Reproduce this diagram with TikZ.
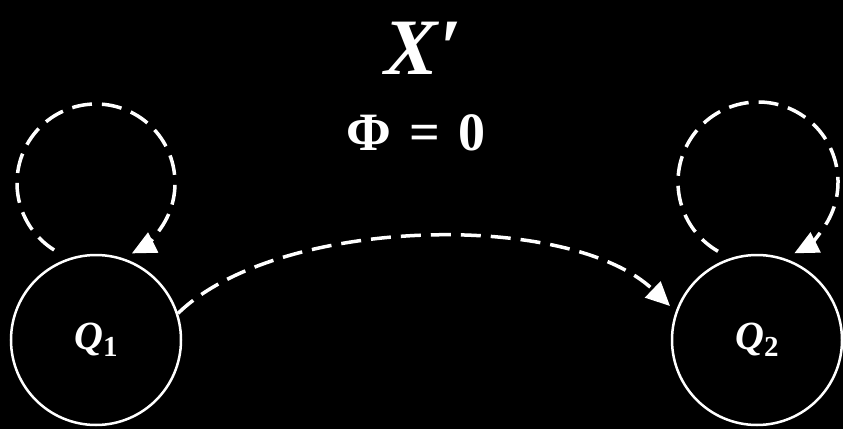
\documentclass[tikz,border=0pt]{standalone}
\usepackage{fontspec}
\setmainfont{Liberation Serif}
\usetikzlibrary{arrows.meta}
\begin{document}
\begin{tikzpicture}[x=1pt,y=1pt,
  state/.style={circle,draw=white,line width=2.5pt,minimum size=170pt,inner sep=0pt,text=white},
  dashline/.style={draw=white,line width=3.5pt,dash pattern=on 20pt off 10pt},
  tip/.style={-{Triangle[length=24pt,width=22pt]}},
  lbl/.style={text=white,inner sep=0pt}]
\fill[black] (0,0) rectangle (843,429);
\useasboundingbox (0,0) rectangle (843,429);
\node[state] (q1) at (96,89) {\fontsize{40}{44}\selectfont\bfseries\itshape Q\raisebox{-7pt}{\upshape\fontsize{29}{32}\selectfont 1}};
\node[state] (q2) at (757,89) {\fontsize{40}{44}\selectfont\bfseries\itshape Q\raisebox{-7pt}{\upshape\fontsize{29}{32}\selectfont 2}};
\node[lbl] (title) at (424,381) {\fontsize{80}{90}\selectfont\bfseries\itshape X\kern3pt\upshape ′};
\node[lbl] (phi) at (416,296) {\fontsize{54}{60}\selectfont\bfseries Φ\hspace{18pt}=\hspace{18pt}0};
\coordinate (c1) at (96,246);
\coordinate (c2) at (758,247);
\coordinate (e2) at (670,123);
\draw[dashline,tip] ([shift={(238:79)}]c1) arc[start angle=238,end angle=-63,radius=79];
\draw[dashline,tip] ([shift={(240:80)}]c2) arc[start angle=240,end angle=-63,radius=80];
\draw[dashline,tip] (q1.18) .. controls (278,213) and (570,219) .. (e2);
\end{tikzpicture}
\end{document}
